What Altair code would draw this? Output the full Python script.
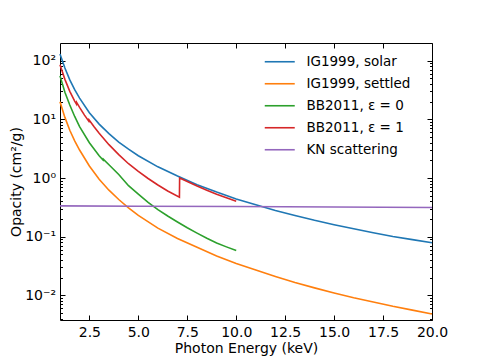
import altair as alt
import pandas as pd

# ---------------- data ----------------
series_names = ["IG1999, solar", "IG1999, settled", "BB2011, ε = 0", "BB2011, ε = 1", "KN scattering"]
series_colors = ["#1f77b4", "#ff7f0e", "#2ca02c", "#d62728", "#9467bd"]

ig_energy = [1.0, 1.25, 1.5, 1.75, 2.0, 2.5, 3.0, 3.5, 4.0, 4.5, 5.0, 6.0, 7.0, 8.0, 9.0,
             10.0, 11.0, 12.0, 13.0, 14.0, 15.0, 16.0, 17.0, 18.0, 19.0, 20.0]
ig_solar = [130, 75, 47, 32, 23, 13, 8.3, 5.7, 4.1, 3.1, 2.4, 1.55, 1.08, 0.77, 0.575,
            0.44, 0.35, 0.28, 0.23, 0.19, 0.16, 0.136, 0.117, 0.101, 0.089, 0.079]
ig_settled = [20, 10.8, 6.5, 4.3, 3.0, 1.6, 0.95, 0.62, 0.43, 0.31, 0.23, 0.14, 0.093, 0.066, 0.047,
              0.035, 0.027, 0.021, 0.0165, 0.0134, 0.011, 0.0091, 0.0077, 0.0065, 0.0056, 0.0048]

bb0_energy = [1.0, 1.25, 1.5, 1.75, 2.0, 2.5, 3.0, 3.2, 3.21, 3.5, 4.0, 4.5, 5.0, 5.5, 6.0,
              6.5, 7.0, 7.5, 8.0, 8.5, 9.0, 9.5, 10.0]
bb0 = [55, 29, 17.5, 11.2, 7.5, 4.0, 2.4, 2.02, 2.1, 1.68, 1.15, 0.74, 0.53, 0.385, 0.29,
       0.225, 0.178, 0.142, 0.115, 0.094, 0.078, 0.067, 0.058]

bb1_energy = [1.0, 1.25, 1.5, 1.75, 1.84, 1.85, 2.0, 2.25, 2.47, 2.48, 2.75, 3.0, 3.5, 4.0,
              4.5, 5.0, 5.5, 6.0, 6.5, 7.1, 7.11, 7.5, 8.0, 8.5, 9.0, 9.5, 10.0]
bb1 = [85, 48, 30, 20.5, 18.2, 19.4, 16.0, 11.8, 9.3, 9.8, 7.4, 5.8, 3.7, 2.5,
       1.75, 1.3, 0.98, 0.76, 0.6, 0.47, 1.0, 0.87, 0.73, 0.62, 0.53, 0.46, 0.40]

kn_energy = [1.0, 5.0, 10.0, 15.0, 20.0]
kn = [0.335, 0.331, 0.326, 0.32, 0.315]

x_domain = [1, 20]
y_domain = [0.0038, 200]
x_ticks = [2.5, 5.0, 7.5, 10.0, 12.5, 15.0, 17.5, 20.0]
y_major = [0.01, 0.1, 1, 10, 100]
y_major_labels = ["10⁻²", "10⁻¹", "10⁰", "10¹", "10²"]
y_minor = [0.004, 0.005, 0.006, 0.007, 0.008, 0.009,
           0.02, 0.03, 0.04, 0.05, 0.06, 0.07, 0.08, 0.09,
           0.2, 0.3, 0.4, 0.5, 0.6, 0.7, 0.8, 0.9,
           2, 3, 4, 5, 6, 7, 8, 9,
           20, 30, 40, 50, 60, 70, 80, 90]

# ---------------- table ----------------
rows = []
for name, xs, ys in [
    (series_names[0], ig_energy, ig_solar),
    (series_names[1], ig_energy, ig_settled),
    (series_names[2], bb0_energy, bb0),
    (series_names[3], bb1_energy, bb1),
    (series_names[4], kn_energy, kn),
]:
    for e, v in zip(xs, ys):
        rows.append({"series": name, "energy": e, "opacity": v})
df = pd.DataFrame(rows)

FONT = "DejaVu Sans"
W, H = 372, 277

y_label_expr = " : ".join(
    f"datum.value == {v} ? '{lab}'" for v, lab in zip(y_major, y_major_labels)
) + " : ''"
major_test = " || ".join(f"datum.value == {v}" for v in y_major)
y_tick_expr = f"({major_test}) ? -5 : -2.5"
y_values = sorted(y_major + y_minor)

x_scale = alt.Scale(domain=x_domain, nice=False, zero=False)
y_scale = alt.Scale(type="log", domain=y_domain, nice=False)

lines = alt.Chart(df).mark_line(strokeWidth=1.6).encode(
    x=alt.X("energy:Q", scale=x_scale,
            axis=alt.Axis(values=x_ticks, format=".1f", title="Photon Energy (keV)",
                          tickSize={"expr": "-5"}, labelPadding=10, titlePadding=2,
                          labelFlush=False, grid=False, domain=False)),
    y=alt.Y("opacity:Q", scale=y_scale,
            axis=alt.Axis(values=y_values, labelExpr=y_label_expr, title="Opacity (cm²/g)",
                          tickSize={"expr": y_tick_expr}, labelPadding=9.5,
                          titleX=-51, titleY=H / 2, titleBaseline="top", titleAngle=270,
                          labelFlush=False, grid=False, domain=False)),
    color=alt.Color("series:N",
                    scale=alt.Scale(domain=series_names, range=series_colors),
                    sort=series_names,
                    legend=alt.Legend(title=None, orient="none", legendX=213, legendY=12,
                                      symbolType="M-3,0H3", symbolSize=100, symbolStrokeWidth=1.6,
                                      labelFont=FONT, labelFontSize=13.5, labelColor="black",
                                      labelOffset=20, rowPadding=7, padding=0)),
)

frame = alt.Chart(df).mark_line(opacity=0).encode(
    x=alt.X("energy:Q", scale=x_scale,
            axis=alt.Axis(orient="top", values=x_ticks, labels=False, title=None,
                          tickSize={"expr": "-5"}, grid=False, domain=False)),
    y=alt.Y("opacity:Q", scale=y_scale,
            axis=alt.Axis(orient="right", values=y_values, labels=False, title=None,
                          tickSize={"expr": y_tick_expr}, grid=False, domain=False)),
    detail="series:N",
)

chart = (
    alt.layer(lines, frame)
    .resolve_axis(x="independent", y="independent")
    .properties(width=W, height=H,
                autosize=alt.AutoSizeParams(type="none"),
                padding={"left": 52, "top": 35, "right": 40, "bottom": 40})
    .configure_view(stroke="black", strokeWidth=1)
    .configure_axis(labelFont=FONT, titleFont=FONT, labelFontSize=14, titleFontSize=14,
                    labelColor="black", titleColor="black", tickColor="black", tickWidth=1,
                    titleFontWeight="normal")
)

chart.save("out.html", embed_options={"renderer": "svg", "actions": False})
